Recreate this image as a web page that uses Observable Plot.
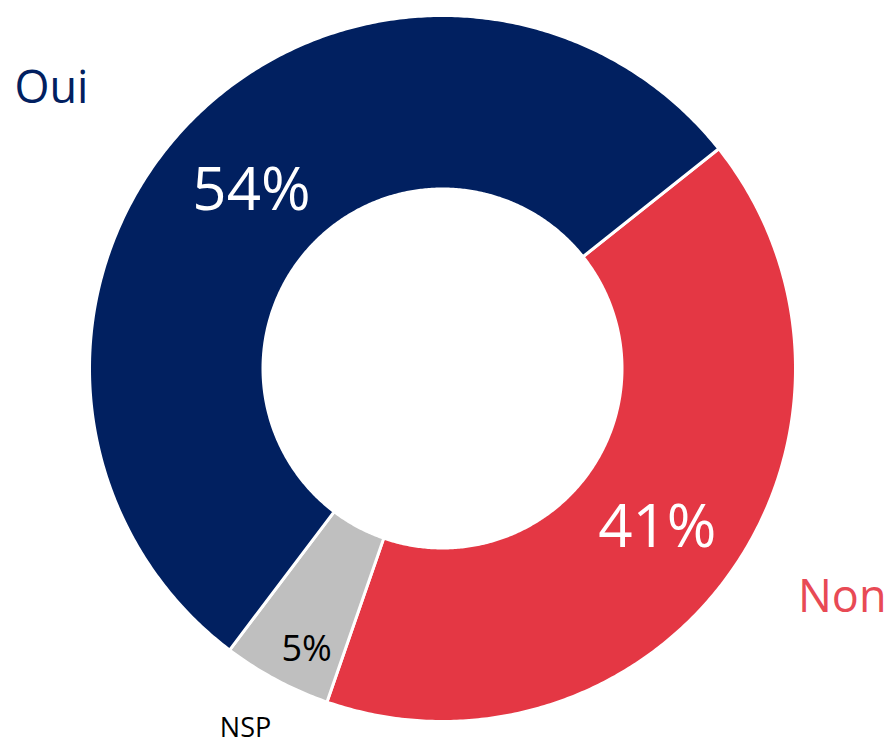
<!DOCTYPE html>
<html>
<head>
<meta charset="utf-8">
<script src="https://cdn.jsdelivr.net/npm/d3@7"></script>
<script src="https://cdn.jsdelivr.net/npm/@observablehq/plot@0.6"></script>
<style>
  html, body { margin: 0; padding: 0; background: #fff; }
  #chart { width: 891px; height: 746px; }
</style>
</head>
<body>
<div id="chart"></div>
<script>
// Data
const categories = ["Non", "NSP", "Oui"];
const values = [41, 5, 54];
const sliceColors = ["#E43744", "#BFBFBF", "#012060"];
const nameColors = ["#E84A55", "#000000", "#012060"];
const valueLabelColors = ["#FFFFFF", "#000000", "#FFFFFF"];

// Geometry (unit radius = outer radius)
const startDeg = 51.5;
const pxPerUnit = 353;
const innerR = 179.5 / pxPerUnit;
const outerR = 1;
const cx = 442, cy = 368, W = 891, H = 746;

const total = d3.sum(values);
const toXY = (deg, r) => {
  const a = deg * Math.PI / 180;
  return [r * Math.sin(a), r * Math.cos(a)];
};

const slices = [];
let acc = startDeg;
categories.forEach((c, i) => {
  const a0 = acc, a1 = acc + values[i] / total * 360;
  acc = a1;
  slices.push({cat: c, value: values[i], a0, a1, mid: (a0 + a1) / 2});
});

const pts = [];
slices.forEach(s => {
  const n = Math.max(4, Math.ceil((s.a1 - s.a0) * 2));
  for (let k = 0; k <= n; k++) {
    const [x, y] = toXY(s.a0 + (s.a1 - s.a0) * k / n, outerR);
    pts.push({cat: s.cat, x, y});
  }
  for (let k = n; k >= 0; k--) {
    const [x, y] = toXY(s.a0 + (s.a1 - s.a0) * k / n, innerR);
    pts.push({cat: s.cat, x, y});
  }
  const [x, y] = toXY(s.a0, outerR);
  pts.push({cat: s.cat, x, y});
});

// layout: value label offsets (angle shift, radius) and name label anchors (pixel spots)
const valuePlace = [[1.2, 0.757], [-2.3, 0.884], [-1.3, 0.74]];
const valueSize = [60, 36, 60];
const namePx = [[886, 597], [245, 728], [14, 88]];
const nameAnchor = ["end", "middle", "start"];
const nameSize = [45, 27, 45];

const valueLabels = slices.map((s, i) => {
  const [x, y] = toXY(s.mid + valuePlace[i][0], valuePlace[i][1]);
  return {x, y, text: s.value + "%", color: valueLabelColors[i], size: valueSize[i]};
});
const nameLabels = slices.map((s, i) => ({
  x: (namePx[i][0] - cx) / pxPerUnit,
  y: (cy - namePx[i][1]) / pxPerUnit,
  text: s.cat, color: nameColors[i], anchor: nameAnchor[i], size: nameSize[i]
}));

const font = "'Open Sans', 'Noto Sans', sans-serif";

const plot = Plot.plot({
  width: W,
  height: H,
  margin: 0,
  style: {fontFamily: font, background: "#fff"},
  x: {domain: [-cx / pxPerUnit, (W - cx) / pxPerUnit], axis: null},
  y: {domain: [-(H - cy) / pxPerUnit, cy / pxPerUnit], axis: null},
  color: {domain: categories, range: sliceColors},
  marks: [
    Plot.line(pts, {x: "x", y: "y", z: "cat", fill: "cat", stroke: "#fff", strokeWidth: 3, curve: "linear"}),
    ...valueLabels.map(d => Plot.text([d], {x: "x", y: "y", text: "text", fill: d.color, fontSize: d.size, fontWeight: 400, textAnchor: "middle"})),
    ...nameLabels.map(d => Plot.text([d], {x: "x", y: "y", text: "text", fill: d.color, fontSize: d.size, textAnchor: d.anchor}))
  ]
});
document.getElementById("chart").appendChild(plot);
</script>
</body>
</html>
